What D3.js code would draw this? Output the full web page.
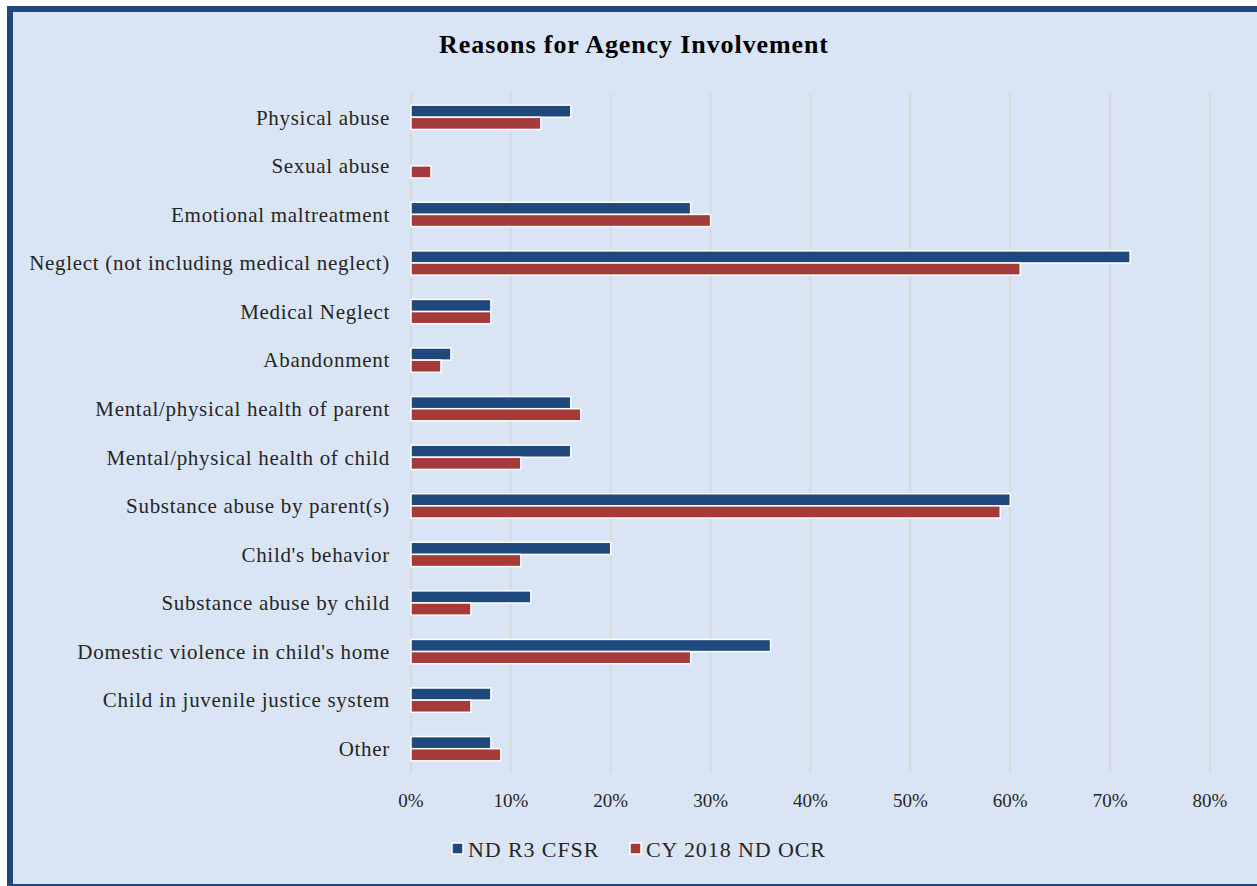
<!DOCTYPE html>
<html>
<head>
<meta charset="utf-8">
<script src="https://cdn.jsdelivr.net/npm/d3@7"></script>
<style>
  html, body { margin: 0; padding: 0; background: #fff; }
  svg { display: block; font-family: "Liberation Serif", "DejaVu Serif", serif; }
</style>
</head>
<body>
<div id="chart"></div>
<script>
const categories = [
  "Physical abuse",
  "Sexual abuse",
  "Emotional maltreatment",
  "Neglect (not including medical neglect)",
  "Medical Neglect",
  "Abandonment",
  "Mental/physical health of parent",
  "Mental/physical health of child",
  "Substance abuse by parent(s)",
  "Child's behavior",
  "Substance abuse by child",
  "Domestic violence in child's home",
  "Child in juvenile justice system",
  "Other"
];
const seriesNames = ["ND R3 CFSR", "CY 2018 ND OCR"];
const cfsrValues = [16, 0, 28, 72, 8, 4, 16, 16, 60, 20, 12, 36, 8, 8];
const ocrValues = [13, 2, 30, 61, 8, 3, 17, 11, 59, 11, 6, 28, 6, 9];
const xTicks = [0, 10, 20, 30, 40, 50, 60, 70, 80];
const colors = ["#1f497d", "#a33b3a"];

const W = 1257, H = 886;
const svg = d3.select("#chart").append("svg")
  .attr("width", W)
  .attr("height", H);

// frame
svg.append("rect")
  .attr("x", 10).attr("y", 9)
  .attr("width", 1250).attr("height", 878)
  .attr("fill", "#d9e5f4")
  .attr("stroke", "#1f497d")
  .attr("stroke-width", 6);

svg.append("text")
  .attr("x", 634).attr("y", 53)
  .attr("text-anchor", "middle")
  .attr("font-weight", "bold")
  .attr("font-size", 26)
  .attr("letter-spacing", 0.9)
  .attr("fill", "#000")
  .text("Reasons for Agency Involvement");

const x = d3.scaleLinear().domain([0, 80]).range([411, 1210]);
const y = d3.scaleBand().domain(categories).range([93, 773]).paddingInner(0.5).paddingOuter(0.25);
const y1 = d3.scaleBand().domain([0, 1]).range([0, y.bandwidth()]);

// gridlines
svg.append("g")
  .selectAll("line")
  .data(xTicks)
  .join("line")
  .attr("x1", d => x(d)).attr("x2", d => x(d))
  .attr("y1", 93).attr("y2", 773)
  .attr("stroke", "#d9d9d9")
  .attr("stroke-width", 2);

// x tick labels
svg.append("g")
  .selectAll("text")
  .data(xTicks)
  .join("text")
  .attr("x", d => x(d))
  .attr("y", 807)
  .attr("text-anchor", "middle")
  .attr("font-size", 19)
  .attr("fill", "#262626")
  .text(d => d + "%");

// category labels
svg.append("g")
  .selectAll("text")
  .data(categories)
  .join("text")
  .attr("x", 390)
  .attr("y", d => y(d) + y.bandwidth() / 2)
  .attr("dy", "0.35em")
  .attr("text-anchor", "end")
  .attr("font-size", 21)
  .attr("letter-spacing", 0.7)
  .attr("fill", "#262626")
  .text(d => d);

const rows = categories.map((c, i) => ({ c, vals: [cfsrValues[i], ocrValues[i]] }));

const groups = svg.append("g")
  .selectAll("g")
  .data(rows)
  .join("g")
  .attr("transform", d => `translate(0,${y(d.c)})`);

groups.selectAll("rect")
  .data(d => d.vals.map((v, k) => ({ v, k })))
  .join("rect")
  .filter(d => d.v > 0)
  .attr("x", x(0))
  .attr("y", d => y1(d.k))
  .attr("width", d => x(d.v) - x(0))
  .attr("height", y1.bandwidth())
  .attr("fill", d => colors[d.k])
  .attr("stroke", "#fff")
  .attr("stroke-width", 1.5);

// legend
const legend = svg.append("g");
const legendItems = [{ name: seriesNames[0], x: 452 }, { name: seriesNames[1], x: 630 }];
legendItems.forEach((it, k) => {
  legend.append("rect")
    .attr("x", it.x).attr("y", 843)
    .attr("width", 11).attr("height", 11)
    .attr("fill", colors[k])
    .attr("stroke", "#fff")
    .attr("stroke-width", 1.5);
  legend.append("text")
    .attr("x", it.x + 16).attr("y", 857)
    .attr("font-size", 22)
    .attr("letter-spacing", 0.9)
    .attr("fill", "#262626")
    .text(it.name);
});
</script>
</body>
</html>
